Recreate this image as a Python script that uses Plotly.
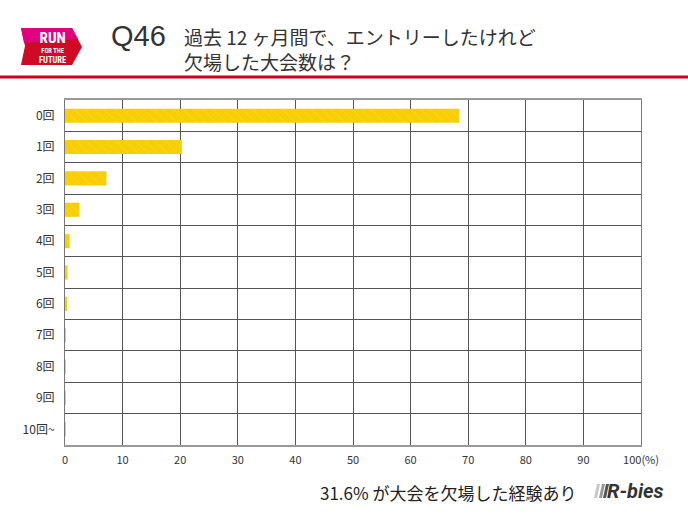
import plotly.graph_objects as go

categories = ["0回", "1回", "2回", "3回", "4回", "5回", "6回", "7回", "8回", "9回", "10回~"]
values = [68.4, 20.3, 7.2, 2.5, 0.8, 0.45, 0.3, 0.05, 0.1, 0.05, 0.1]
x_ticks = [0, 10, 20, 30, 40, 50, 60, 70, 80, 90, 100]
x_ticktext = ["0", "10", "20", "30", "40", "50", "60", "70", "80", "90", "100(%)"]

W, H = 688, 516
L, R, T, B = 65, 641, 100, 445

def px(x):
    return (x - L) / (R - L)

def py(y):
    return (B - y) / (B - T)

JP = "Noto Sans CJK JP, Noto Sans, sans-serif"

fig = go.Figure()
fig.add_trace(go.Bar(
    x=values, y=categories, orientation="h",
    marker=dict(color="#F8CF05", line=dict(width=0),
                pattern=dict(shape="\\", fgcolor="#FADB4A", fgopacity=0.6, size=7, solidity=0.12)),
    width=0.45, hoverinfo="skip",
))

fig.update_layout(
    width=W, height=H,
    margin=dict(l=L, r=W - R, t=T, b=H - B, autoexpand=False),
    paper_bgcolor="white", plot_bgcolor="white",
    showlegend=False,
    font=dict(family=JP, color="#333"),
)
fig.update_xaxes(
    range=[0, 100], tickvals=x_ticks, ticktext=x_ticktext, automargin=False,
    showgrid=True, gridcolor="#555", gridwidth=1,
    showline=True, linecolor="#999", linewidth=2, mirror=True,
    zeroline=False, ticks="", tickfont=dict(size=11, color="#333"), ticklabelstandoff=4,
)
fig.update_yaxes(
    categoryorder="array", categoryarray=categories, autorange="reversed", automargin=False,
    tickson="boundaries", showgrid=True, gridcolor="#555", gridwidth=1,
    showline=True, linecolor="#777", linewidth=1, mirror=True,
    ticks="", tickfont=dict(size=12, color="#333"), ticklabelstandoff=7,
)

shapes = []
def path(pts):
    return "M " + " L ".join(f"{px(a):.5f},{py(b):.5f}" for a, b in pts) + " Z"
# logo chevron
shapes.append(dict(type="path", xref="paper", yref="paper",
                   path=path([(21, 28), (72, 28), (82, 47), (72, 65), (21, 65), (25, 46)]),
                   fillcolor="#CF0A24", line=dict(width=0), layer="above"))
shapes.append(dict(type="path", xref="paper", yref="paper",
                   path=path([(21, 28), (72, 28), (78, 39), (24, 43)]),
                   fillcolor="#E4007C", line=dict(width=0), layer="above"))
# red header line
shapes.append(dict(type="line", xref="paper", yref="paper",
                   x0=px(0), x1=px(688), y0=py(77), y1=py(77),
                   line=dict(color="#C8001E", width=3)))
# R-bies mark bars
for i, xx in enumerate([594, 599, 603]):
    shapes.append(dict(type="path", xref="paper", yref="paper",
                       path=path([(xx + 3, 484), (xx + 6, 484), (xx + 3, 498), (xx, 498)]),
                       fillcolor=["#c8c8c8", "#999", "#555"][i], line=dict(width=0)))
fig.update_layout(shapes=shapes)

ann = []
def text(x, y, s, size, color="#333", xanchor="left", family=JP, bold=False, align="left"):
    if bold:
        s = f"<b>{s}</b>"
    ann.append(dict(xref="paper", yref="paper", x=px(x), y=py(y), text=s, showarrow=False,
                    xanchor=xanchor, yanchor="middle", align=align,
                    font=dict(size=size, color=color, family=family)))

logo_text = ("<b><span style='font-size:15px'>RUN</span><br>"
             "<span style='font-size:6.5px'>FOR THE</span><br>"
             "<span style='font-size:8.5px'>FUTURE</span></b>")
text(52, 47, logo_text, 7.5, "white", "center", "Roboto Condensed, Roboto, sans-serif", align="center")
text(109, 36, "Q46", 29, "#333", "left", "Liberation Sans, Arial, sans-serif")
text(182, 48.5, "過去 12 ヶ月間で、エントリーしたけれど<br>欠場した大会数は？", 19, "#333")
text(318, 492, "31.6% が大会を欠場した経験あり", 17, "#222")
text(605, 491, "<i>R-bies</i>", 20, "#333", "left", "Roboto, Arial, sans-serif", True)
fig.update_layout(annotations=ann)

fig.write_html("out.html", config={"displayModeBar": False},
               post_script="document.body.style.margin='0';document.body.style.padding='0';")
